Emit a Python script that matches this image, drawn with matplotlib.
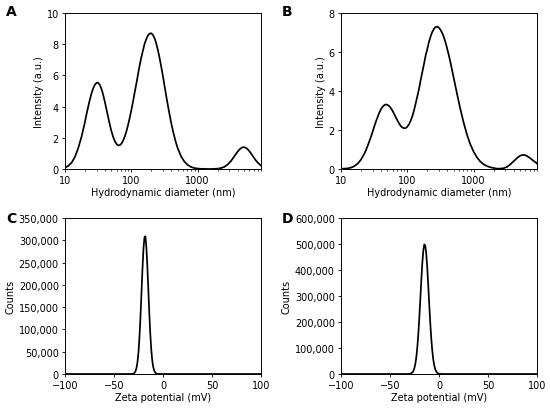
import numpy as np
import matplotlib
matplotlib.use('Agg')
import matplotlib.pyplot as plt
from matplotlib.ticker import FuncFormatter, NullFormatter, MultipleLocator

plt.rcParams['font.family'] = ['DejaVu Sans']
plt.rcParams['font.size'] = 7
plt.rcParams['axes.linewidth'] = 0.7
plt.rcParams['xtick.major.size'] = 2.5
plt.rcParams['ytick.major.size'] = 2.5
plt.rcParams['xtick.minor.size'] = 1.5
plt.rcParams['xtick.major.width'] = 0.6
plt.rcParams['ytick.major.width'] = 0.6
plt.rcParams['xtick.minor.width'] = 0.5
plt.rcParams['xtick.major.pad'] = 2
plt.rcParams['ytick.major.pad'] = 2

# size bins (nm)
diameter = [10.0, 11.2, 12.6, 14.1, 15.8, 17.8,
            20.0, 21.1, 22.4, 23.7, 25.1, 26.6, 28.2, 29.9,
            31.6, 33.5, 35.5, 37.6, 39.8, 42.2, 44.7, 47.3,
            50.1, 53.1, 56.2, 59.6, 63.1, 66.8, 70.8, 75.0,
            79.4, 84.1, 89.1, 94.4, 100, 106, 112, 119,
            126, 133, 141, 150, 158, 168, 178, 188,
            200, 211, 224, 237, 251, 266, 282, 299,
            316, 335, 355, 376, 398, 422, 447, 473,
            501, 562, 631, 708, 794, 891, 1000, 1122,
            1259, 1413, 1585, 1778, 1995, 2239, 2512, 2818,
            3162, 3548, 3758, 3981, 4217, 4467, 4732, 5012,
            5309, 5623, 5957, 6310, 6683, 7079, 7499, 7943,
            8913, 9000]

intensity_a = [0.09, 0.20, 0.41, 0.77, 1.33, 2.09,
               3.02, 3.51, 4.00, 4.45, 4.85, 5.17, 5.40, 5.52,
               5.53, 5.39, 5.13, 4.76, 4.32, 3.83, 3.33, 2.85,
               2.42, 2.07, 1.79, 1.61, 1.52, 1.52, 1.62, 1.81,
               2.07, 2.40, 2.81, 3.27, 3.78, 4.32, 4.89, 5.47,
               6.06, 6.61, 7.14, 7.61, 8.01, 8.33, 8.56, 8.68,
               8.70, 8.60, 8.38, 8.06, 7.63, 7.13, 6.56, 5.96,
               5.34, 4.70, 4.09, 3.51, 2.97, 2.48, 2.04, 1.65,
               1.32, 0.81, 0.47, 0.26, 0.13, 0.06, 0.03, 0.01,
               0.01, 0.00, 0.00, 0.01, 0.02, 0.06, 0.13, 0.28,
               0.50, 0.80, 0.96, 1.10, 1.23, 1.33, 1.39, 1.40,
               1.36, 1.28, 1.16, 1.02, 0.87, 0.71, 0.56, 0.43,
               0.23, 0.22]

intensity_b = [0.01, 0.02, 0.03, 0.07, 0.14, 0.27,
               0.48, 0.62, 0.77, 0.96, 1.17, 1.40, 1.64, 1.90,
               2.16, 2.42, 2.65, 2.87, 3.05, 3.18, 3.27, 3.31,
               3.29, 3.23, 3.13, 2.99, 2.83, 2.66, 2.49, 2.34,
               2.21, 2.13, 2.09, 2.10, 2.17, 2.29, 2.47, 2.71,
               3.00, 3.34, 3.71, 4.11, 4.53, 4.96, 5.38, 5.79,
               6.16, 6.50, 6.79, 7.02, 7.18, 7.28, 7.30, 7.25,
               7.14, 6.98, 6.76, 6.49, 6.18, 5.83, 5.46, 5.06,
               4.66, 3.84, 3.06, 2.36, 1.75, 1.26, 0.88, 0.59,
               0.38, 0.24, 0.15, 0.09, 0.05, 0.02, 0.02, 0.04,
               0.10, 0.23, 0.31, 0.39, 0.47, 0.55, 0.62, 0.68,
               0.71, 0.72, 0.71, 0.67, 0.62, 0.56, 0.49, 0.42,
               0.30, 0.28]

# zeta potential (mV)
zeta_c = [-100, -33, -32, -31, -30, -29, -28, -27, -26, -25, -24, -23, -22, -21,
          -20, -19, -18, -17, -16, -15, -14, -13, -12, -11, -10, -9, -8,
          -7, -6, -5, -4, 100]
counts_c = [0, 0, 130, 394, 1088, 2770, 6440, 13880, 27400, 49700, 83100,
            127400, 179900, 233300, 278400, 305400, 309000, 285500, 243300,
            190700, 137500, 91100, 55500, 31100, 16000, 7570, 3290, 1320,
            490, 165, 0, 0]

zeta_d = [-100, -33, -32, -31, -30, -29, -28, -27, -26, -25, -24, -23, -22, -21,
          -20, -19, -18, -17, -16, -15, -14, -13, -12, -11, -10, -9, -8,
          -7, -6, -5, -4, -3, -2, -1, 0, 1, 2, 3, 100]
counts_d = [0, 0, 99, 256, 628, 1460, 3200, 6630, 13000, 24000, 41950, 69300,
            108200, 159500, 222100, 292400, 363800, 427500, 474800, 498300,
            494000, 462800, 409700, 342700, 270900, 202300, 142800, 95200,
            60000, 35700, 20100, 10700, 5360, 2540, 1140, 480, 195, 0, 0]

W, H = 550, 410
fig = plt.figure(figsize=(W / 100, H / 100), dpi=100)


def box(l, t, r, b):
    return [l / W, 1 - b / H, (r - l) / W, (b - t) / H]


ax_a = fig.add_axes(box(65, 14, 261, 170))
ax_b = fig.add_axes(box(341, 14, 537, 170))
ax_c = fig.add_axes(box(65, 219, 261, 375))
ax_d = fig.add_axes(box(341, 219, 537, 375))

for ax, y, top in [(ax_a, intensity_a, 10), (ax_b, intensity_b, 8)]:
    ax.plot(diameter, y, color='black', lw=1.25)
    ax.set_xscale('log')
    ax.set_xlim(10, 9000)
    ax.set_ylim(0, top)
    ax.yaxis.set_major_locator(MultipleLocator(2))
    ax.xaxis.set_major_formatter(FuncFormatter(lambda v, p: f'{v:g}'))
    ax.xaxis.set_minor_formatter(NullFormatter())
    ax.set_xlabel('Hydrodynamic diameter (nm)', labelpad=1.5)
    ax.set_ylabel('Intensity (a.u.)', labelpad=2)

for ax, x, y, top, step in [(ax_c, zeta_c, counts_c, 350000, 50000),
                            (ax_d, zeta_d, counts_d, 600000, 100000)]:
    ax.plot(x, y, color='black', lw=1.25)
    ax.set_xlim(-100, 100)
    ax.set_ylim(0, top)
    ax.xaxis.set_major_locator(MultipleLocator(50))
    ax.yaxis.set_major_locator(MultipleLocator(step))
    ax.yaxis.set_major_formatter(FuncFormatter(lambda v, p: f'{v:,.0f}'))
    ax.set_xlabel('Zeta potential (mV)', labelpad=1.5)
    ax.set_ylabel('Counts', labelpad=2)

for lbl, x, y in [('A', 6, 5), ('B', 282, 5), ('C', 6, 212), ('D', 282, 212)]:
    fig.text(x / W, 1 - y / H, lbl, fontsize=10, fontweight='bold', va='top', ha='left')

fig.savefig('out.png', dpi=100)
